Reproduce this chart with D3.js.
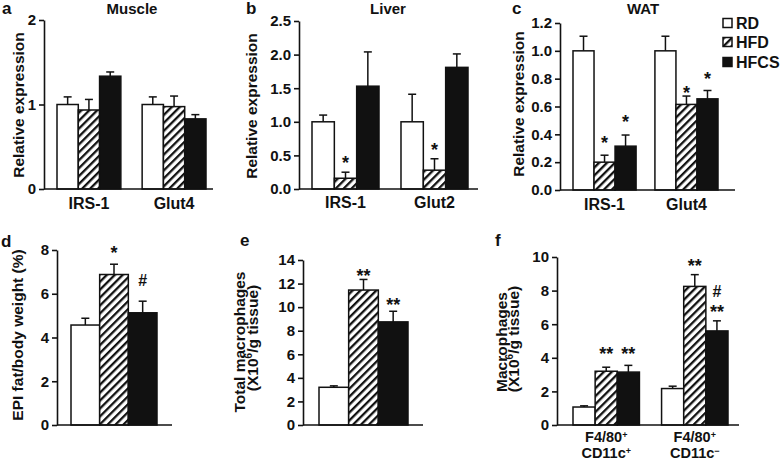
<!DOCTYPE html>
<html><head><meta charset="utf-8">
<script src="https://cdn.jsdelivr.net/npm/d3@7"></script>
<style>
body{margin:0;background:#fff}
svg{display:block}
text{font-family:"Liberation Sans",Arial,Helvetica,sans-serif;font-weight:bold;fill:#111}
</style></head><body>
<svg id="chart" width="780" height="465"></svg>
<script>
// ---------------- data ----------------
const dietGroups = ["RD", "HFD", "HFCS"];

const muscleCats = ["IRS-1", "Glut4"];
const muscleMean = [[1.0, 0.935, 1.335], [1.0, 0.975, 0.83]];
const muscleSD   = [[0.09, 0.125, 0.05], [0.09, 0.125, 0.05]];
const muscleTicks = [0, 1, 2];

const liverCats = ["IRS-1", "Glut2"];
const liverMean = [[1.0, 0.16, 1.53], [1.0, 0.28, 1.81]];
const liverSD   = [[0.10, 0.09, 0.51], [0.41, 0.17, 0.20]];
const liverTicks = [0, 0.5, 1.0, 1.5, 2.0, 2.5];
const liverMarks = [[0, 1, "*", 0.45], [1, 1, "*", 0.64]];

const watCats = ["IRS-1", "Glut4"];
const watMean = [[1.0, 0.20, 0.315], [1.0, 0.615, 0.655]];
const watSD   = [[0.105, 0.05, 0.08], [0.105, 0.06, 0.06]];
const watTicks = [0, 0.2, 0.4, 0.6, 0.8, 1.0, 1.2];
const watMarks = [[0, 1, "*", 0.37], [0, 2, "*", 0.52], [1, 1, "*", 0.73], [1, 2, "*", 0.83]];

const epiCats = [""];
const epiMean = [[4.57, 6.88, 5.13]];
const epiSD   = [[0.31, 0.47, 0.53]];
const epiTicks = [0, 2, 4, 6, 8];
const epiMarks = [[0, 1, "*", 8.08], [0, 2, "#", 6.62]];

const totCats = [""];
const totMean = [[3.2, 11.45, 8.75]];
const totSD   = [[0.12, 0.9, 0.9]];
const totTicks = [0, 2, 4, 6, 8, 10, 12, 14];
const totMarks = [[0, 1, "**", 13.06], [0, 2, "**", 10.6]];

const macCats = ["F4/80^+^\nCD11c^+", "F4/80^+^\nCD11c^-"];
const macMean = [[1.07, 3.2, 3.15], [2.17, 8.25, 5.6]];
const macSD   = [[0.07, 0.24, 0.4], [0.14, 0.7, 0.6]];
const macTicks = [0, 2, 4, 6, 8, 10];
const macMarks = [[0, 1, "**", 4.52], [0, 2, "**", 4.52], [1, 1, "**", 9.76], [1, 2, "#", 7.98], [1, 2, "**", 7.02]];

// ---------------- drawing ----------------
const svg = d3.select("#chart");
svg.append("rect").attr("width", 780).attr("height", 465).attr("fill", "#fff");
const defs = svg.append("defs");
const pat = defs.append("pattern").attr("id", "hatch")
  .attr("patternUnits", "userSpaceOnUse").attr("width", 5.6).attr("height", 5.6)
  .attr("patternTransform", "rotate(45)");
pat.append("rect").attr("width", 5.6).attr("height", 5.6).attr("fill", "#fff");
pat.append("rect").attr("width", 2.3).attr("height", 5.6).attr("fill", "#111");
const fills = ["#fff", "url(#hatch)", "#111"];

// "^" toggles superscript
function rich(sel, str, supSize, supShift) {
  const parts = str.split("^");
  let pending = 0;
  parts.forEach((p, i) => {
    if (p === "") return;
    const t = sel.append("tspan").text(p === "-" ? "\u2212" : p);
    if (i % 2 === 1) {
      t.attr("font-size", supSize).attr("dy", pending - supShift);
      pending = supShift;
    } else if (pending) {
      t.attr("dy", pending);
      pending = 0;
    }
  });
}

function panel(c) {
  const g = svg.append("g");
  const y = d3.scaleLinear().domain([0, c.max]).range([c.yBottom, c.yTop]);
  const x0 = d3.scaleBand().domain(d3.range(c.cats.length))
    .range([c.barLeft, c.barRight]).paddingInner(c.pad);
  const x1 = d3.scaleBand().domain(d3.range(dietGroups.length)).range([0, x0.bandwidth()]);

  // error bars
  c.means.forEach((row, i) => row.forEach((m, j) => {
    const cx = x0(i) + x1(j) + x1.bandwidth() / 2;
    const top = y(m + c.sd[i][j]);
    g.append("line").attr("x1", cx).attr("x2", cx).attr("y1", y(m)).attr("y2", top)
      .attr("stroke", "#111").attr("stroke-width", 1.5);
    g.append("line").attr("x1", cx - 4).attr("x2", cx + 4).attr("y1", top).attr("y2", top)
      .attr("stroke", "#111").attr("stroke-width", 1.5);
  }));

  // bars
  c.means.forEach((row, i) => row.forEach((m, j) => {
    g.append("rect")
      .attr("x", x0(i) + x1(j)).attr("width", x1.bandwidth())
      .attr("y", y(m)).attr("height", y(0) - y(m))
      .attr("fill", fills[j]).attr("stroke", "#111").attr("stroke-width", 1.5);
  }));

  // y axis
  const ax = g.append("g").attr("transform", `translate(${c.axisX},0)`)
    .call(d3.axisLeft(y).tickValues(c.ticks).tickFormat(c.fmt).tickSize(5).tickSizeOuter(0).tickPadding(3));
  ax.attr("font-family", null).attr("font-size", null);
  ax.select(".domain").attr("stroke", "#111").attr("stroke-width", 1.6);
  ax.selectAll(".tick line").attr("stroke", "#111").attr("stroke-width", 1.6);
  ax.selectAll(".tick text").attr("font-size", 15).attr("fill", "#111");

  // x axis line
  g.append("line").attr("x1", c.axisX).attr("x2", c.axisRight)
    .attr("y1", y(0)).attr("y2", y(0)).attr("stroke", "#111").attr("stroke-width", 1.6);

  // category labels
  c.cats.forEach((cat, i) => {
    const lines = cat.split("\n");
    lines.forEach((ln, k) => {
      if (!ln) return;
      const t = g.append("text").attr("x", x0(i) + x0.bandwidth() / 2)
        .attr("y", c.catY + k * c.catLH).attr("text-anchor", "middle").attr("font-size", c.catSize);
      rich(t, ln, 9, 4);
    });
  });

  // annotations
  (c.marks || []).forEach(([i, j, txt, v]) => {
    const cx = x0(i) + x1(j) + x1.bandwidth() / 2;
    const isHash = txt === "#";
    g.append("text").attr("x", cx).attr("y", y(v) + (isHash ? 6 : 10.5)).attr("text-anchor", "middle")
      .attr("font-size", isHash ? 16 : 18).text(txt);
  });

  // y label
  c.ylabel.forEach((lab, k) => {
    const t = g.append("text")
      .attr("transform", `translate(${c.ylabX[k]},${c.ylabY[k]}) rotate(-90)`)
      .attr("text-anchor", "middle").attr("font-size", 15.5);
    rich(t, lab, 10, 6);
  });

  // title and letter
  if (c.title) g.append("text").attr("x", c.titleX).attr("y", 14).attr("text-anchor", "middle")
    .attr("font-size", 15).text(c.title);
  g.append("text").attr("x", c.letterX).attr("y", c.letterY).attr("font-size", 17).text(c.letter);
}

const f1 = d3.format(".1f"), f0 = d3.format("d");

panel({letter: "a", letterX: 2, letterY: 14, title: "Muscle", titleX: 132,
  ylabel: ["Relative expression"], ylabX: [24], ylabY: [105],
  axisX: 44, axisRight: 213, yTop: 20, yBottom: 189, barLeft: 57, barRight: 206, pad: 0.25,
  max: 2, ticks: muscleTicks, fmt: f0, cats: muscleCats, means: muscleMean, sd: muscleSD,
  catY: 209, catLH: 0, catSize: 16});

panel({letter: "b", letterX: 246, letterY: 14, title: "Liver", titleX: 388,
  ylabel: ["Relative expression"], ylabX: [257], ylabY: [106],
  axisX: 299, axisRight: 478, yTop: 21, yBottom: 189, barLeft: 312, barRight: 468, pad: 0.247,
  max: 2.5, ticks: liverTicks, fmt: f1, cats: liverCats, means: liverMean, sd: liverSD,
  marks: liverMarks, catY: 208, catLH: 0, catSize: 16});

panel({letter: "c", letterX: 512, letterY: 14, title: "WAT", titleX: 643,
  ylabel: ["Relative expression"], ylabX: [524], ylabY: [104],
  axisX: 560, axisRight: 735, yTop: 23, yBottom: 190, barLeft: 573, barRight: 718, pad: 0.23,
  max: 1.2, ticks: watTicks, fmt: f1, cats: watCats, means: watMean, sd: watSD,
  marks: watMarks, catY: 210, catLH: 0, catSize: 16});

panel({letter: "d", letterX: 1, letterY: 247,
  ylabel: ["EPI fat/body weight (%)"], ylabX: [23], ylabY: [335],
  axisX: 57, axisRight: 172, yTop: 250, yBottom: 425, barLeft: 71, barRight: 157, pad: 0,
  max: 8, ticks: epiTicks, fmt: f0, cats: epiCats, means: epiMean, sd: epiSD,
  marks: epiMarks, catY: 445, catLH: 0, catSize: 16});

panel({letter: "e", letterX: 240, letterY: 246,
  ylabel: ["Total macrophages", "(X10^6^/g tissue)"], ylabX: [245, 258], ylabY: [342, 338],
  axisX: 303, axisRight: 423, yTop: 260, yBottom: 425, barLeft: 319, barRight: 408, pad: 0,
  max: 14, ticks: totTicks, fmt: f0, cats: totCats, means: totMean, sd: totSD,
  marks: totMarks, catY: 445, catLH: 0, catSize: 16});

panel({letter: "f", letterX: 495, letterY: 246,
  ylabel: ["Macrophages", "(X10^6^/g tissue)"], ylabX: [507, 519], ylabY: [342, 339],
  axisX: 557, axisRight: 739, yTop: 257, yBottom: 425, barLeft: 573, barRight: 728, pad: 0.25,
  max: 10, ticks: macTicks, fmt: f0, cats: macCats, means: macMean, sd: macSD,
  marks: macMarks, catY: 442, catLH: 16, catSize: 14.5});

// legend
const leg = svg.append("g");
const legY = [23, 42, 62];
dietGroups.forEach((name, j) => {
  leg.append("rect").attr("x", 723).attr("y", legY[j] - 4.5).attr("width", 9).attr("height", 9)
    .attr("fill", fills[j]).attr("stroke", "#111").attr("stroke-width", 1.5);
  leg.append("text").attr("x", 736).attr("y", legY[j] + 5.5).attr("font-size", 16).text(name);
});
</script>
</body></html>
